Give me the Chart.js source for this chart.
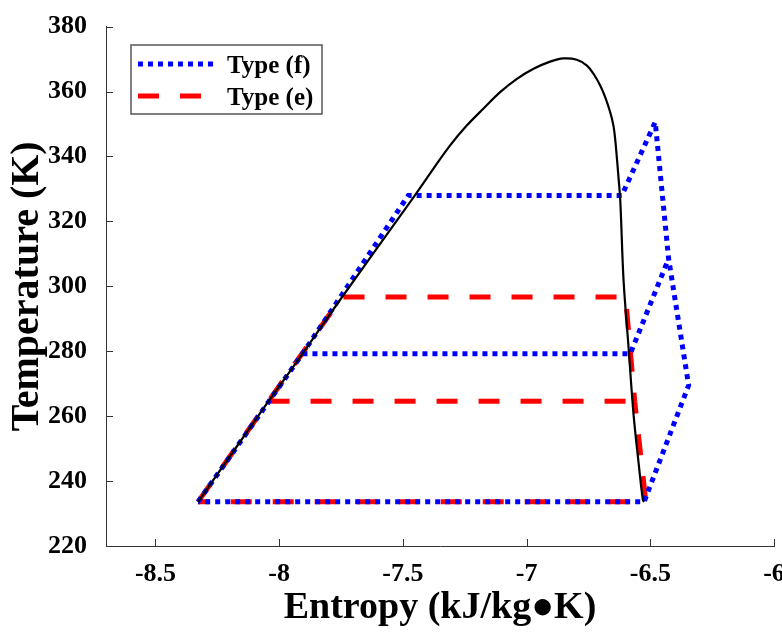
<!DOCTYPE html>
<html>
<head>
<meta charset="utf-8">
<script src="https://cdn.jsdelivr.net/npm/chart.js@4.4.0/dist/chart.umd.min.js"></script>
<style>
html,body{margin:0;padding:0;background:#ffffff;}
#wrap{width:782px;height:632px;}
</style>
</head>
<body>
<div id="wrap"><canvas id="c" width="782" height="632"></canvas></div>
<script>
// ---- data ----
const xTickValues = [-8.5, -8, -7.5, -7, -6.5, -6];
const yTickValues = [220, 240, 260, 280, 300, 320, 340, 360, 380];

// saturation dome (black)
const satS = [-8.328, -8.043, -7.906, -7.755, -7.471, -7.377, -7.309, -7.242, -7.175, -7.107, -7.039, -6.972, -6.905, -6.851, -6.797, -6.756, -6.729, -6.702, -6.682, -6.662, -6.649, -6.642, -6.628, -6.621, -6.608, -6.588, -6.568, -6.547, -6.530, -6.525];
const satT = [233.6, 264.6, 279.2, 295.7, 325.9, 336.2, 343.4, 349.5, 354.7, 359.8, 363.9, 367.0, 369.2, 370.2, 369.8, 368.0, 365.4, 361.8, 358.2, 353.6, 349.5, 345.4, 333.1, 325.9, 301.8, 281.3, 260.8, 245.4, 234.2, 233.6];

// Type (f) cycle (blue dotted)
const typeF_s = [-8.328, -7.906, -7.478, -6.615, -6.480, -6.426, -6.345, -6.525, -8.328];
const typeF_T = [233.6, 279.2, 328.0, 328.0, 350.6, 308.5, 269.5, 233.6, 233.6];
const typeF_branch_s = [-7.906, -6.581, -6.426];
const typeF_branch_T = [279.2, 279.2, 308.5];

// Type (e) cycle (red dashed)
const typeE_s = [-8.328, -8.043, -7.747, -6.600, -6.563, -6.518, -8.328];
const typeE_T = [233.6, 264.6, 296.7, 296.7, 264.6, 233.6, 233.6];
const typeE_branch_s = [-8.043, -6.563];
const typeE_branch_T = [264.6, 264.6];

const legendLabels = ['Type (f)', 'Type (e)'];
const xTitle = 'Entropy (kJ/kg\u25CFK)';
const yTitle = 'Temperature (K)';

// ---- helpers ----
function pts(sArr, tArr) { return sArr.map((s, i) => ({x: s, y: tArr[i]})); }

const BLUE = '#0000ff', RED = '#ff0000';
const FONT = "'Liberation Serif', 'Times New Roman', serif";

const blueStyle = {borderColor: BLUE, borderWidth: 5, borderDash: [5, 5], borderCapStyle: 'butt'};
const redStyle = {borderColor: RED, borderWidth: 5, borderDash: [21, 21], borderCapStyle: 'butt'};

const datasets = [
  Object.assign({label: 'sat', data: pts(satS, satT), borderColor: '#000000', borderWidth: 2.2, tension: 0.35, order: 0}),
  Object.assign({label: legendLabels[0], data: pts(typeF_s, typeF_T), order: 1, tension: 0}, blueStyle),
  Object.assign({label: legendLabels[0] + ' b', data: pts(typeF_branch_s, typeF_branch_T), order: 1, tension: 0}, blueStyle),
  Object.assign({label: legendLabels[1], data: pts(typeE_s, typeE_T), order: 2, tension: 0}, redStyle),
  Object.assign({label: legendLabels[1] + ' b', data: pts(typeE_branch_s, typeE_branch_T), order: 2, tension: 0}, redStyle)
];
datasets.forEach(d => { d.showLine = true; d.pointRadius = 0; d.fill = false; d.borderJoinStyle = 'miter'; });

const tickPlugin = {
  id: 'innerTicksLegend',
  afterDraw(chart) {
    const ctx = chart.ctx;
    const xs = chart.scales.x, ys = chart.scales.y;
    const a = chart.chartArea;
    ctx.save();
    ctx.strokeStyle = '#333333';
    ctx.lineWidth = 1;
    ctx.setLineDash([]);
    ctx.beginPath();
    xTickValues.forEach(v => {
      const px = Math.round(xs.getPixelForValue(v)) + 0.5;
      ctx.moveTo(px, a.bottom);
      ctx.lineTo(px, a.bottom - 7);
    });
    yTickValues.forEach(v => {
      const py = Math.round(ys.getPixelForValue(v)) + 0.5;
      ctx.moveTo(a.left, py);
      ctx.lineTo(a.left + 7, py);
    });
    ctx.stroke();

    // legend box
    const bx = 131, by = 45, bw = 191, bh = 69;
    ctx.fillStyle = '#ffffff';
    ctx.fillRect(bx, by, bw, bh);
    ctx.strokeStyle = '#555555';
    ctx.lineWidth = 1.5;
    ctx.strokeRect(bx, by, bw, bh);
    const rows = [
      {y: 64, style: blueStyle, text: legendLabels[0]},
      {y: 96, style: redStyle, text: legendLabels[1]}
    ];
    rows.forEach(r => {
      ctx.strokeStyle = r.style.borderColor;
      ctx.lineWidth = r.style.borderWidth;
      ctx.lineCap = 'butt';
      ctx.setLineDash(r.style.borderDash);
      ctx.beginPath();
      ctx.moveTo(138, r.y);
      ctx.lineTo(216, r.y);
      ctx.stroke();
      ctx.setLineDash([]);
      ctx.fillStyle = '#000000';
      ctx.font = 'bold 25px ' + FONT;
      ctx.textBaseline = 'middle';
      ctx.textAlign = 'left';
      ctx.fillText(r.text, 227, r.y + 3);
    });
    ctx.restore();
  }
};

new Chart(document.getElementById('c'), {
  type: 'scatter',
  data: {datasets: datasets},
  options: {
    responsive: false,
    animation: false,
    devicePixelRatio: 1,
    layout: {padding: {top: 26, right: 8, left: 0, bottom: 0}},
    plugins: {legend: {display: false}, tooltip: {enabled: false}},
    scales: {
      x: {
        type: 'linear', min: -8.7, max: -6,
        grid: {display: false},
        border: {display: true, color: '#333333', width: 1},
        afterBuildTicks: s => { s.ticks = xTickValues.map(v => ({value: v})); },
        afterFit: s => { s.height = 86; s.paddingLeft = 0; s.paddingRight = 0; },
        ticks: {
          padding: 5, color: '#000000', maxRotation: 0, autoSkip: false,
          font: {family: FONT, size: 26, weight: 'bold'},
          callback: v => String(v)
        },
        title: {display: true, text: xTitle, color: '#000000', padding: {top: 0, bottom: 1},
          font: {family: FONT, size: 38, weight: 'bold'}}
      },
      y: {
        type: 'linear', min: 220, max: 380,
        grid: {display: false},
        border: {display: true, color: '#333333', width: 1},
        afterBuildTicks: s => { s.ticks = yTickValues.map(v => ({value: v})); },
        afterFit: s => { s.width = 106; },
        ticks: {
          padding: 11, color: '#000000', autoSkip: false,
          font: {family: FONT, size: 26, weight: 'bold'},
          callback: v => String(v)
        },
        title: {display: true, text: yTitle, color: '#000000', padding: {top: 4, bottom: 0},
          font: {family: FONT, size: 40, weight: 'bold'}}
      }
    }
  },
  plugins: [tickPlugin]
});
</script>
</body>
</html>
